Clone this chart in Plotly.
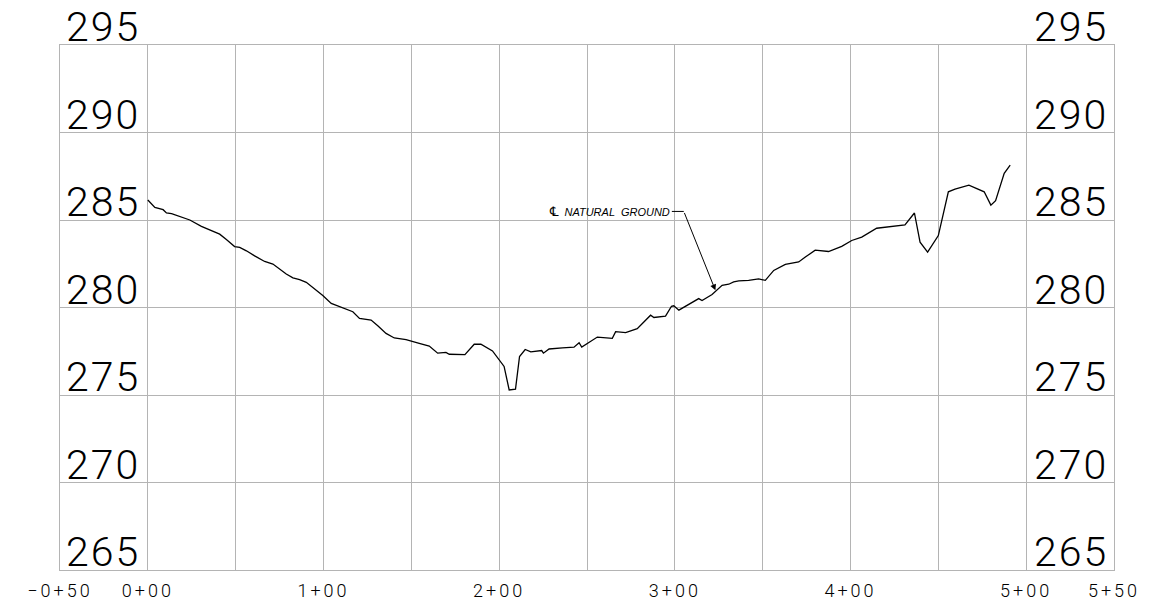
import plotly.graph_objects as go

# Station (ft) and elevation values read from the profile
stations = [0, 4, 8.7, 10.6, 13.5, 17.2, 20, 23.9, 30.5, 35.2, 40.9, 44.7, 49.4, 52.3, 56.1,
            60.8, 66.5, 71.2, 74.0, 78.8, 82.6, 86.4, 90.2, 93.9, 99.6, 104.4, 111, 116.7,
            120.5, 127.1, 130.9, 135.6, 140.3, 147, 154.5, 160.2, 165, 169.7, 171.6, 180.5,
            185.8, 189.6, 196.2, 202.8, 205.7, 209.3, 211.6, 214.8, 218, 224.2, 225.2, 228.4,
            236, 242.6, 245.5, 247, 255.9, 264.4, 266.3, 272, 278.6, 286.2, 288.1, 294.7,
            298.1, 299.4, 302.3, 313.6, 315.5, 321.2, 326.9, 330.7, 333.5, 336.4, 342, 347.7,
            351.5, 356.3, 362.9, 370.5, 374.3, 379.9, 387.5, 395, 400.7, 406.4, 414.9, 419.7,
            431, 436.4, 439.6, 443.9, 450, 455.7, 459.5, 467.4, 476.1, 479.9, 482.6, 487.5,
            490.9]
elevations = [286.14, 285.72, 285.59, 285.40, 285.36, 285.23, 285.17, 285.0, 284.64, 284.45,
              284.19, 283.88, 283.48, 283.43, 283.24, 282.95, 282.63, 282.48, 282.26, 281.91,
              281.69, 281.59, 281.44, 281.15, 280.68, 280.23, 279.98, 279.76, 279.38, 279.28,
              278.96, 278.52, 278.26, 278.16, 277.95, 277.80, 277.39, 277.43, 277.33, 277.31,
              277.90, 277.91, 277.52, 276.63, 275.29, 275.34, 277.2, 277.6, 277.46, 277.54,
              277.39, 277.63, 277.69, 277.73, 277.99, 277.74, 278.31, 278.24, 278.62, 278.56,
              278.79, 279.56, 279.43, 279.51, 280.07, 280.10, 279.85, 280.51, 280.40, 280.74,
              281.27, 281.33, 281.46, 281.52, 281.55, 281.63, 281.55, 282.12, 282.46, 282.60,
              282.88, 283.28, 283.20, 283.49, 283.83, 284.02, 284.53, 284.58, 284.72, 285.40,
              283.73, 283.16, 284.11, 286.61, 286.76, 286.99, 286.61, 285.85, 286.10, 287.67,
              288.14]

x_grid = [-50, 0, 50, 100, 150, 200, 250, 300, 350, 400, 450, 500, 550]
x_labels = ["\u22120+50", "0+00", "", "1+00", "", "2+00", "", "3+00", "", "4+00", "", "5+00", "5+50"]
y_levels = [265, 270, 275, 280, 285, 290, 295]
y_labels = ["265", "270", "275", "280", "285", "290", "295"]

label_symbol = "\u2104"
label_text = "NATURAL  GROUND"
label_pos = (305.1, 285.49)
arrow_tip = (323.1, 280.98)

GRID = "#b4b4b4"
FONT = "Roboto"


def spaced(t, px):
    return '<span style="letter-spacing:%dpx">%s</span>' % (px, t) if t else t


fig = go.Figure()
fig.add_trace(go.Scatter(x=stations, y=elevations, mode="lines",
                         line=dict(color="black", width=1.3), hoverinfo="skip",
                         showlegend=False))

annotations = []
for v, t in zip(y_levels, y_labels):
    annotations.append(dict(x=-47.7, y=v, xref="x", yref="y", text=spaced(t, 2), showarrow=False,
                            xanchor="left", yanchor="bottom", yshift=-8,
                            font=dict(family=FONT, size=41, color="black", weight=300)))
    annotations.append(dict(x=548.0, y=v, xref="x", yref="y", text=spaced(t, 2), showarrow=False,
                            xanchor="right", yanchor="bottom", yshift=-8,
                            font=dict(family=FONT, size=41, color="black", weight=300)))

# text label
annotations.append(dict(x=label_pos[0] - 6.8, y=label_pos[1], xref="x", yref="y",
                        text='<span style="font-family:\'DejaVu Sans\';font-size:13px">'
                             + label_symbol + '</span>  <i>' + label_text + "</i>",
                        showarrow=False, xanchor="right", yanchor="middle",
                        font=dict(family="Liberation Sans", size=11, color="black")))
# arrow
annotations.append(dict(x=arrow_tip[0], y=arrow_tip[1], xref="x", yref="y",
                        ax=label_pos[0], ay=label_pos[1], axref="x", ayref="y",
                        text="", showarrow=True, arrowhead=2, arrowsize=1.2,
                        arrowwidth=1, arrowcolor="black"))

shapes = [dict(type="line", xref="x", yref="y", x0=label_pos[0] - 6.8, x1=label_pos[0],
               y0=label_pos[1], y1=label_pos[1], line=dict(color="black", width=1))]

fig.update_layout(
    width=1158, height=613, autosize=False,
    margin=dict(l=60, r=44, t=45, b=40),
    paper_bgcolor="white", plot_bgcolor="white",
    xaxis=dict(range=[-50, 550], tickvals=x_grid, ticktext=[spaced(t, 3) for t in x_labels],
               showgrid=True, gridcolor=GRID, gridwidth=1, zeroline=False, showline=True,
               linecolor=GRID, mirror=True, ticks="", ticklabelstandoff=4,
               tickfont=dict(family=FONT, size=18, color="black", weight=300)),
    yaxis=dict(range=[265, 295], tickvals=y_levels, showticklabels=False, showgrid=True,
               gridcolor=GRID, gridwidth=1, zeroline=False, showline=True, linecolor=GRID,
               mirror=True, ticks=""),
    annotations=annotations,
    shapes=shapes,
)

fig.write_html("out.html", config={"displayModeBar": False, "responsive": False},
               post_script="document.body.style.margin='0';")
